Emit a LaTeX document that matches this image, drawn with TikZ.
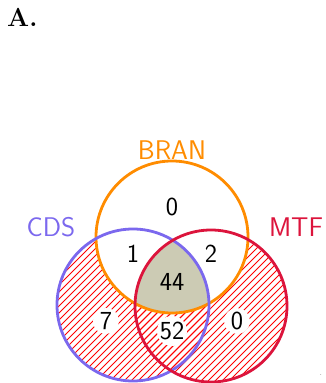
\documentclass[tikz,border=0pt]{standalone}
\usepackage{fontspec}
\definecolor{branc}{RGB}{255,140,0}
\definecolor{cdsc}{RGB}{123,104,238}
\definecolor{mtfc}{RGB}{220,20,60}
\definecolor{corec}{RGB}{204,203,180}
\definecolor{hatchc}{RGB}{255,0,0}
\tikzset{
  setlabel/.style={font=\sffamily\fontsize{27}{32}\selectfont, anchor=base, inner sep=0pt},
  count/.style={font=\sffamily\fontsize{26}{31}\selectfont, anchor=base, inner sep=0pt},
  ring/.style={line width=2.8pt},
  hatchline/.style={hatchc, line width=0.9pt},
  blank/.style={fill=white, draw=none, circle, minimum size=26pt, inner sep=0pt}
}
\begin{document}
\begin{tikzpicture}[x=1pt,y=1pt]
\useasboundingbox (0,0) rectangle (325,383);
\coordinate (cB) at (172,146);
\coordinate (cC) at (133,78);
\coordinate (cM) at (211,77);
\def\rad{76pt}

% hatching of CDS and MTF
\begin{scope}
  \clip (cC) circle[radius=\rad];
  \foreach \k in {-420,-413,...,400} \draw[hatchline] (\k,-10) -- ++(420,420);
\end{scope}
\begin{scope}
  \clip (cM) circle[radius=\rad];
  \foreach \k in {-420,-413,...,400} \draw[hatchline] (\k,-10) -- ++(420,420);
\end{scope}

% BRAN area stays plain
\fill[white] (cB) circle[radius=\rad];

% common core of all three sets
\begin{scope}
  \clip (cB) circle[radius=\rad];
  \clip (cC) circle[radius=\rad];
  \fill[corec] (cM) circle[radius=\rad];
\end{scope}

% white patches behind counts on hatched areas
\node[blank] (b7) at (106,62) {};
\node[blank, minimum size=30pt] (b52) at (172,52) {};
\node[blank] (b0r) at (237,62) {};

% set outlines
\draw[ring, branc] (cB) circle[radius=\rad];
\draw[ring, cdsc] (cC) circle[radius=\rad];
\draw[ring, mtfc] (cM) circle[radius=\rad];

% set names
\node[setlabel, text=branc] (lbran) at (172,223) {BRAN};
\node[setlabel, text=cdsc] (lcds) at (51,146) {CDS};
\node[setlabel, text=mtfc] (lmtf) at (296,146) {MTF};

% counts
\node[count] (n0t) at (172,167) {0};
\node[count] (n1) at (133,120) {1};
\node[count] (n2) at (211,120) {2};
\node[count] (n44) at (172,92) {44};
\node[count] (n7) at (106,53) {7};
\node[count] (n52) at (172,43) {52};
\node[count] (n0r) at (237,53) {0};

% panel tag
\node[font=\bfseries\fontsize{26}{31}\selectfont, anchor=base west, inner sep=0pt] (tag) at (7,356) {A.};
\node[font=\fontsize{6}{7}\selectfont, anchor=base, inner sep=0pt] (dot) at (321,7) {.};
\end{tikzpicture}
\end{document}
